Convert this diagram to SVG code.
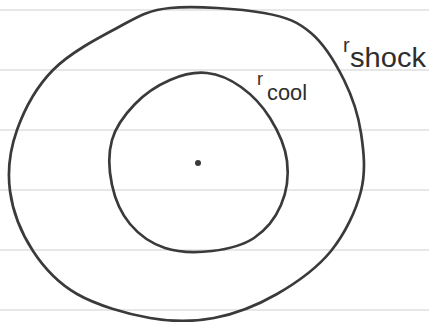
<svg xmlns="http://www.w3.org/2000/svg" width="429" height="322" viewBox="0 0 429 322">
<style>
.rule{stroke:#d0d0d0;stroke-width:1.2}
.ink{fill:none;stroke:#3a3a3a;stroke-width:2.7;stroke-linecap:round;stroke-linejoin:round}
.lbl{font-family:"Liberation Sans",Arial,sans-serif;fill:#2e2e2e}
</style>
<rect width="429" height="322" fill="#ffffff"/>
<g id="paper-lines">
<line class="rule" x1="0" y1="10" x2="429" y2="10"/>
<line class="rule" x1="0" y1="70" x2="429" y2="70"/>
<line class="rule" x1="0" y1="130" x2="429" y2="130"/>
<line class="rule" x1="0" y1="190" x2="429" y2="190"/>
<line class="rule" x1="0" y1="250" x2="429" y2="250"/>
<line class="rule" x1="0" y1="310" x2="429" y2="310"/>
</g>
<g id="shock">
<path class="ink" d="M170,8 C194.5,5.5 240.5,8.8 264,13 C287.5,17.2 297.7,21.8 311,33 C324.3,44.2 335.7,63.3 344,80 C352.3,96.7 358.2,114.5 361,133 C363.8,151.5 366,171.3 361,191 C356,210.7 345,233.8 331,251 C317,268.2 296.5,282.8 277,294 C257.5,305.2 235.2,314 214,318 C192.8,322 172.8,322 150,318 C127.2,314 96.5,305.2 77,294 C57.5,282.8 44.2,268.2 33,251 C21.8,233.8 12.7,211.2 10,191 C7.3,170.8 9.8,150.2 17,130 C24.2,109.8 36.3,87 53,70 C69.7,53 97.5,38.3 117,28 C136.5,17.7 145.5,10.5 170,8 Z"/>
<text class="lbl" x="343" y="52" font-size="20">r</text>
<text class="lbl" x="350" y="67" font-size="27" textLength="76" lengthAdjust="spacingAndGlyphs">shock</text>
</g>
<g id="cool">
<path class="ink" d="M207,73 C218.8,74.2 230.5,79.5 241,87 C251.5,94.5 262.3,105.7 270,118 C277.7,130.3 285.2,146.5 287,161 C288.8,175.5 286.5,192.2 281,205 C275.5,217.8 265.5,230.3 254,238 C242.5,245.7 226.8,249.3 212,251 C197.2,252.7 178.7,252.5 165,248 C151.3,243.5 138.8,234.5 130,224 C121.2,213.5 115,199 112,185 C109,171 108.2,153.5 112,140 C115.8,126.5 125.3,114 135,104 C144.7,94 158,85.2 170,80 C182,74.8 195.2,71.8 207,73 Z"/>
<text class="lbl" x="257" y="85" font-size="18">r</text>
<text class="lbl" x="267" y="100" font-size="22" textLength="40" lengthAdjust="spacingAndGlyphs">cool</text>
</g>
<g id="centre">
<circle cx="198" cy="163" r="3" fill="#3a3a3a"/>
</g>
</svg>
